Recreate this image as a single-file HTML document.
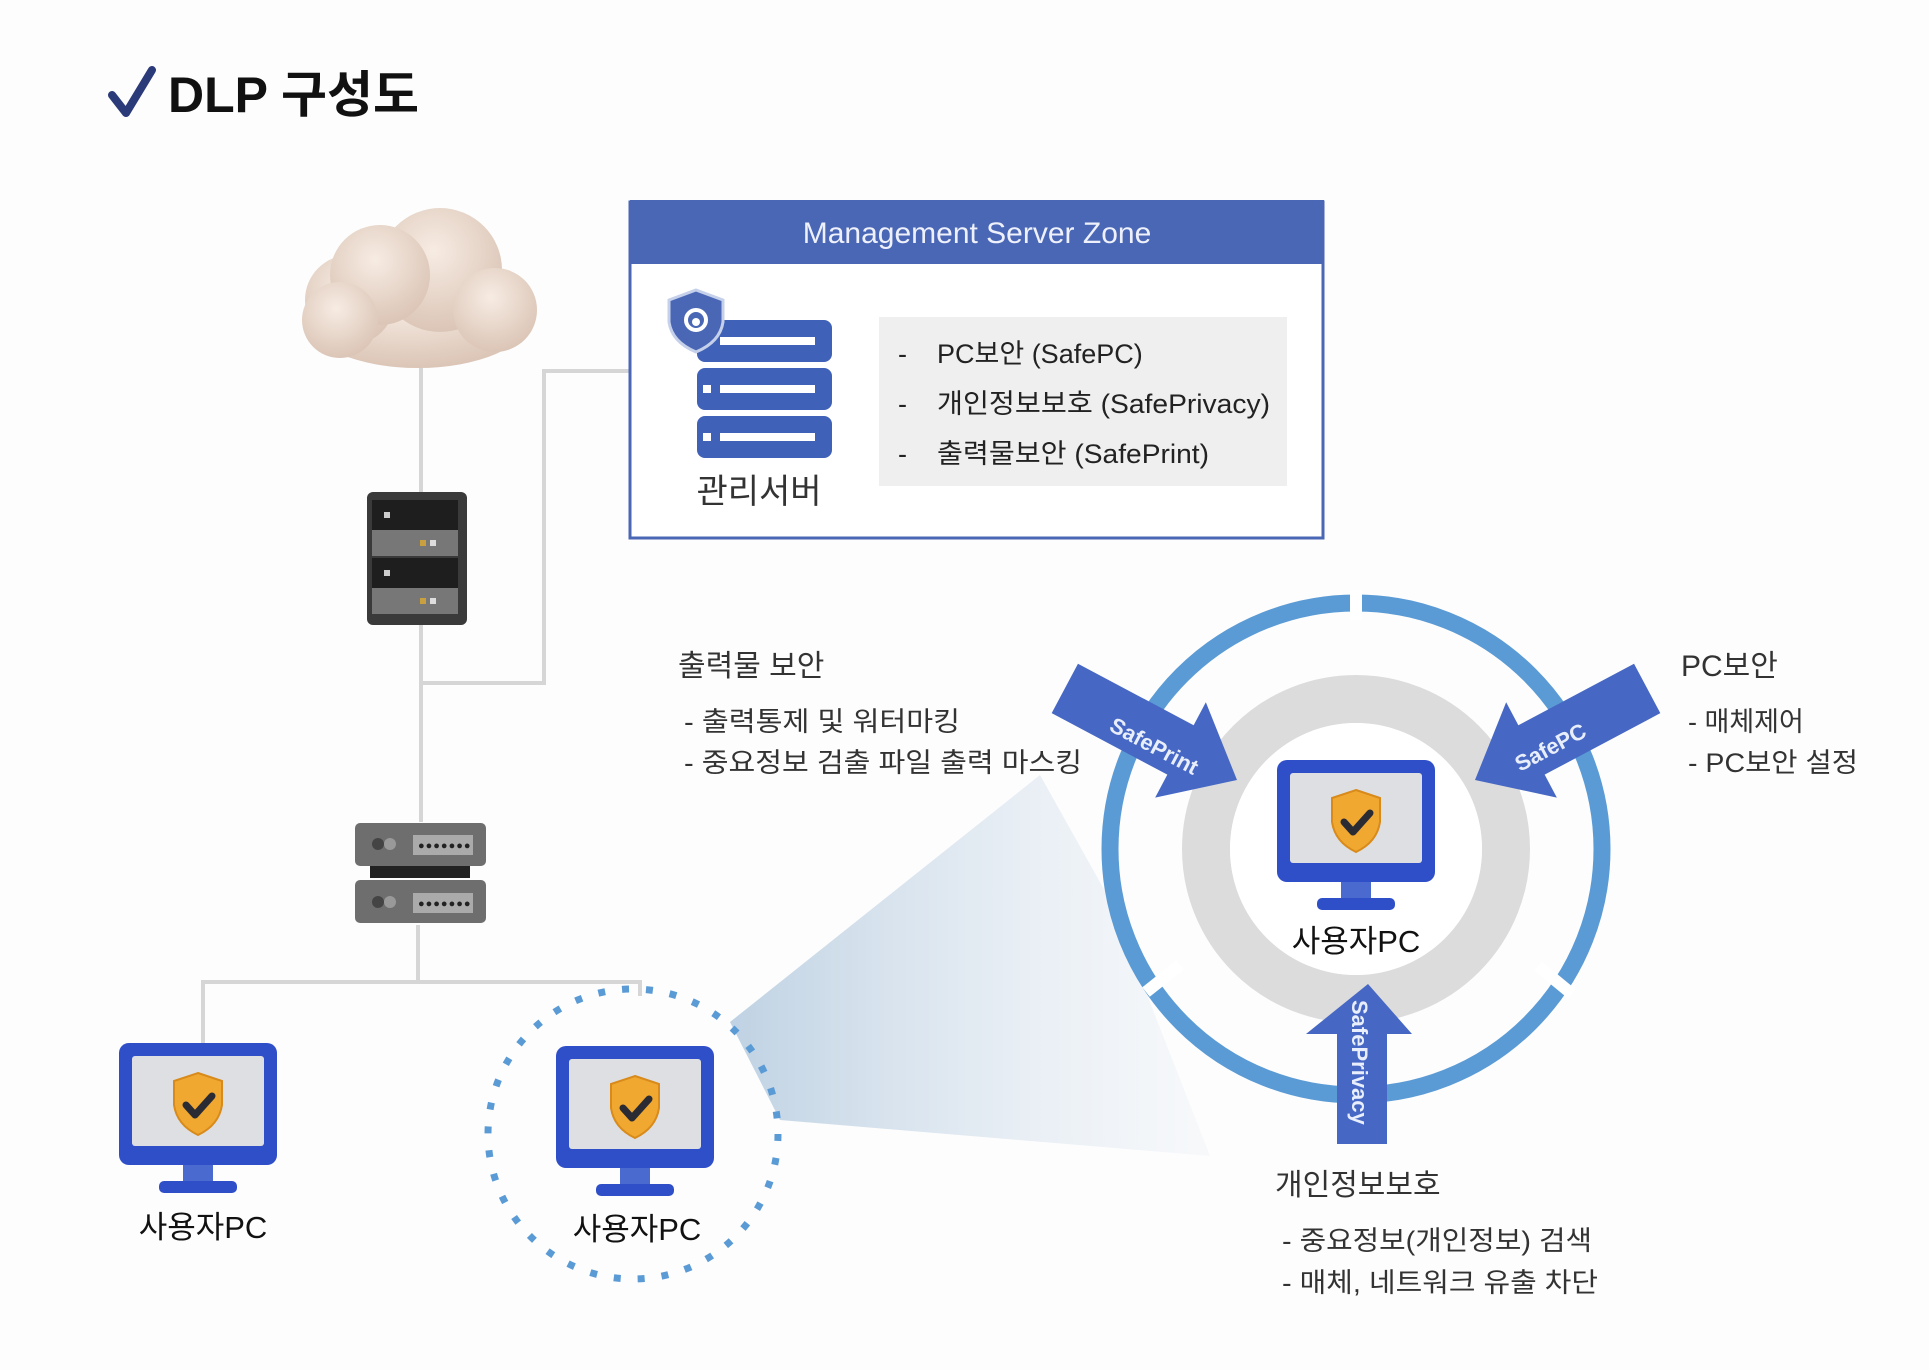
<!DOCTYPE html>
<html><head><meta charset="utf-8"><style>
html,body{margin:0;padding:0;background:#fff;}
svg{display:block;}
text{font-family:"Liberation Sans","Noto Sans CJK KR",sans-serif;}
</style></head><body>
<svg width="1929" height="1370" viewBox="0 0 1929 1370" xmlns="http://www.w3.org/2000/svg">
<defs>
<radialGradient id="cl" cx="0.45" cy="0.35" r="0.7">
<stop offset="0" stop-color="#f7ece3"/><stop offset="1" stop-color="#d9c2b3"/>
</radialGradient>
<linearGradient id="cone" x1="0" y1="0" x2="1" y2="0">
<stop offset="0" stop-color="#b8cde0" stop-opacity="0.9"/><stop offset="1" stop-color="#e8eef5" stop-opacity="0.3"/>
</linearGradient>
<g id="pc">
<rect x="0" y="0" width="158" height="122" rx="10" fill="#2f4fc9"/>
<rect x="13" y="13" width="132" height="90" rx="3" fill="#dedfe3"/>
<path d="M79 30 L103 38 L103 62 Q100 82 79 92 Q58 82 55 62 L55 38 Z" fill="#f0a830" stroke="#d88a1a" stroke-width="2"/>
<path d="M67 62 L76 72 L93 53" fill="none" stroke="#2b2b33" stroke-width="7" stroke-linecap="round" stroke-linejoin="round"/>
<rect x="64" y="122" width="30" height="18" fill="#4a6ad0"/>
<rect x="40" y="138" width="78" height="12" rx="5" fill="#2f4fc9"/>
</g>
</defs>
<rect width="1929" height="1370" fill="#fdfdfd"/>

<path d="M112 95 L126 113 L152 70" fill="none" stroke="#2b3a78" stroke-width="8" stroke-linejoin="round" stroke-linecap="round"/>
<text x="168" y="112" font-size="50" font-weight="bold" fill="#111">DLP 구성도</text>

<g stroke="#d6d6d6" stroke-width="4" fill="none">
<path d="M421 360 V822"/>
<path d="M630 371 H544 V683 H421"/>
<path d="M418 925 V982 M203 1043 V982 H640 V996"/>
</g>

<g fill="url(#cl)">
<ellipse cx="418" cy="320" rx="110" ry="48"/>
<circle cx="350" cy="300" r="45"/>
<circle cx="440" cy="270" r="62"/>
<circle cx="380" cy="275" r="50"/>
<circle cx="495" cy="310" r="42"/>
<circle cx="340" cy="320" r="38"/>
</g>

<g>
<rect x="367" y="492" width="100" height="133" rx="6" fill="#3a3a3a"/>
<rect x="372" y="500" width="86" height="30" fill="#1e1e1e"/>
<rect x="372" y="530" width="86" height="26" fill="#777"/>
<rect x="372" y="558" width="86" height="30" fill="#1e1e1e"/>
<rect x="372" y="588" width="86" height="26" fill="#777"/>
<rect x="420" y="540" width="6" height="6" fill="#c9a040"/><rect x="430" y="540" width="6" height="6" fill="#ddd"/>
<rect x="420" y="598" width="6" height="6" fill="#c9a040"/><rect x="430" y="598" width="6" height="6" fill="#ddd"/>
<rect x="384" y="512" width="6" height="6" fill="#ccc"/><rect x="384" y="570" width="6" height="6" fill="#ccc"/>
</g>

<g>
<rect x="355" y="823" width="131" height="43" rx="5" fill="#6e6e6e"/>
<rect x="370" y="866" width="100" height="12" fill="#222"/>
<rect x="355" y="880" width="131" height="43" rx="5" fill="#6e6e6e"/>
<rect x="413" y="835" width="60" height="20" fill="#aaa"/>
<rect x="413" y="893" width="60" height="20" fill="#aaa"/>
<circle cx="378" cy="844" r="6" fill="#444"/><circle cx="390" cy="844" r="6" fill="#999"/>
<circle cx="378" cy="902" r="6" fill="#444"/><circle cx="390" cy="902" r="6" fill="#999"/>
<text x="418" y="849" font-size="11" fill="#222" letter-spacing="1">●●●●●●●</text>
<text x="418" y="907" font-size="11" fill="#222" letter-spacing="1">●●●●●●●</text>
</g>

<rect x="630" y="202" width="693" height="336" fill="#fff" stroke="#4a67b5" stroke-width="3"/>
<rect x="630" y="200" width="694" height="64" fill="#4a67b5"/>
<text x="977" y="243" font-size="30" fill="#eef1fb" text-anchor="middle">Management Server Zone</text>
<g fill="#3f61b8">
<rect x="697" y="320" width="135" height="42" rx="8"/>
<rect x="697" y="368" width="135" height="42" rx="8"/>
<rect x="697" y="416" width="135" height="42" rx="8"/>
</g>
<g fill="#fff">
<rect x="720" y="337" width="95" height="8"/><rect x="703" y="337" width="8" height="8"/>
<rect x="720" y="385" width="95" height="8"/><rect x="703" y="385" width="8" height="8"/>
<rect x="720" y="433" width="95" height="8"/><rect x="703" y="433" width="8" height="8"/>
</g>
<path d="M696 290 L723 300 L723 322 Q720 342 696 352 Q672 342 669 322 L669 300 Z" fill="#4a67b5" stroke="#c5d0ea" stroke-width="3"/>
<circle cx="696" cy="320" r="10" fill="none" stroke="#fff" stroke-width="4"/>
<circle cx="696" cy="322" r="4" fill="#fff"/>
<text x="759" y="503" font-size="34" fill="#333" text-anchor="middle">관리서버</text>
<rect x="879" y="317" width="408" height="169" fill="#efefef"/>
<g font-size="27" fill="#222">
<text x="898" y="363">-</text><text x="937" y="363">PC보안 (SafePC)</text>
<text x="898" y="413">-</text><text x="937" y="413" textLength="333" lengthAdjust="spacingAndGlyphs">개인정보보호 (SafePrivacy)</text>
<text x="898" y="463">-</text><text x="937" y="463" textLength="272" lengthAdjust="spacingAndGlyphs">출력물보안 (SafePrint)</text>
</g>

<polygon points="730,1022 1040,775 1110,900 1210,1156 780,1120" fill="url(#cone)"/>

<circle cx="633" cy="1134" r="145" fill="none" stroke="#5b9bd5" stroke-width="7" stroke-dasharray="7 17"/>

<circle cx="1356" cy="849" r="150" fill="none" stroke="#dcdcdc" stroke-width="48"/>
<circle cx="1356" cy="849" r="126" fill="#fff"/>
<circle cx="1356" cy="849" r="246" fill="none" stroke="#5b9bd5" stroke-width="17"/>
<g stroke="#fff" stroke-width="12">
<line x1="1356" y1="590" x2="1356" y2="620"/>
<line x1="1146" y1="992" x2="1180" y2="965"/>
<line x1="1572" y1="994" x2="1538" y2="966"/>
</g>

<g fill="#4668c4">
<g transform="translate(1237,780) rotate(28)">
<polygon points="0,0 -64,-54 -64,-28 -195,-28 -195,28 -64,28 -64,54"/>
</g>
<g transform="translate(1475,780) rotate(152)">
<polygon points="0,0 -64,-54 -64,-28 -195,-28 -195,28 -64,28 -64,54"/>
</g>
<polygon points="1368,984 1412,1034 1387,1034 1387,1144 1337,1144 1337,1034 1306,1034"/>
</g>
<g font-size="22" font-weight="bold" fill="#e8eefc">
<text transform="translate(1108,730) rotate(28)">SafePrint</text>
<text transform="translate(1520,772) rotate(-28)">SafePC</text>
<text transform="translate(1352,1000) rotate(90)">SafePrivacy</text>
</g>

<use href="#pc" x="119" y="1043"/>
<use href="#pc" x="556" y="1046"/>
<use href="#pc" x="1277" y="760"/>
<g font-size="31" fill="#111" text-anchor="middle">
<text x="203" y="1238">사용자PC</text>
<text x="637" y="1240">사용자PC</text>
<text x="1356" y="952">사용자PC</text>
</g>

<g fill="#333">
<text x="678" y="676" font-size="30">출력물 보안</text>
<text x="684" y="731" font-size="27" textLength="276" lengthAdjust="spacingAndGlyphs">- 출력통제 및 워터마킹</text>
<text x="684" y="772" font-size="27" textLength="398" lengthAdjust="spacingAndGlyphs">- 중요정보 검출 파일 출력 마스킹</text>
<text x="1681" y="676" font-size="30">PC보안</text>
<text x="1688" y="731" font-size="27">- 매체제어</text>
<text x="1688" y="772" font-size="27" textLength="170" lengthAdjust="spacingAndGlyphs">- PC보안 설정</text>
<text x="1275" y="1195" font-size="30">개인정보보호</text>
<text x="1282" y="1250" font-size="27" textLength="310" lengthAdjust="spacingAndGlyphs">- 중요정보(개인정보) 검색</text>
<text x="1282" y="1292" font-size="27" textLength="316" lengthAdjust="spacingAndGlyphs">- 매체, 네트워크 유출 차단</text>
</g>
</svg>
</body></html>
